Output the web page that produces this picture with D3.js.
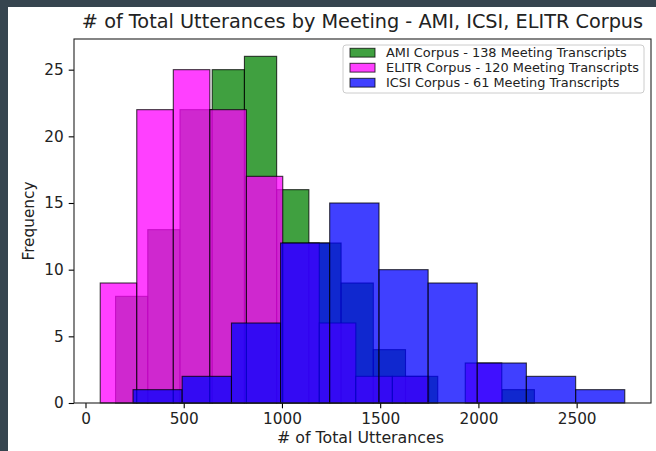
<!DOCTYPE html>
<html>
<head>
<meta charset="utf-8">
<script src="https://cdn.jsdelivr.net/npm/d3@7"></script>
<style>
  body { margin: 0; background: #36454f; }
  svg { display: block; font-family: "DejaVu Sans", sans-serif; }
</style>
</head>
<body>
<div id="chart"></div>
<script>
// bin edges and counts
const amiEdges = [153, 317, 481, 645, 809, 973, 1137, 1301, 1465, 1629, 1793, 1957, 2121, 2285];
const amiCounts = [8, 13, 22, 25, 26, 16, 12, 9, 4, 2, 0, 0, 1];

const elitrEdges = [75, 261, 447, 633, 819, 1004, 1190, 1376, 1562, 1748, 1933, 2119];
const elitrCounts = [9, 22, 25, 22, 17, 12, 6, 2, 2, 0, 3];

const icsiEdges = [242, 492, 743, 993, 1243, 1494, 1744, 1994, 2244, 2495, 2745];
const icsiCounts = [1, 2, 6, 12, 15, 10, 9, 3, 2, 1];

const seriesNames = ["AMI Corpus - 138 Meeting Transcripts", "ELITR Corpus - 120 Meeting Transcripts", "ICSI Corpus - 61 Meeting Transcripts"];
const seriesColors = ["#008000", "#ff00ff", "#0000ff"];

const xTicks = [0, 500, 1000, 1500, 2000, 2500];
const yTicks = [0, 5, 10, 15, 20, 25];

function toBins(edges, counts) {
    return counts.map((c, i) => ({ x0: edges[i], x1: edges[i + 1], count: c }));
}

function drawChart() {
    const W = 656, H = 451;
    const margin = { top: 39, right: 5, bottom: 48, left: 74 },
        width = W - margin.left - margin.right,
        height = H - margin.top - margin.bottom;

    const svg = d3.select("#chart")
        .append("svg")
        .attr("width", W)
        .attr("height", H);

    // white card on the dark slide
    svg.append("rect").attr("x", 0).attr("y", 0).attr("width", W).attr("height", H).attr("fill", "#36454f");
    svg.append("rect").attr("x", 8).attr("y", 7).attr("width", W - 8).attr("height", H - 7).attr("fill", "#ffffff");

    const series = [
        toBins(amiEdges, amiCounts),
        toBins(elitrEdges, elitrCounts),
        toBins(icsiEdges, icsiCounts)
    ];

    // x limits like matplotlib: data range plus 5% each side
    const allEdges = amiEdges.concat(elitrEdges, icsiEdges);
    const [lo, hi] = d3.extent(allEdges);
    const pad = (hi - lo) * 0.05;
    const x = d3.scaleLinear().domain([lo - pad, hi + pad]).range([0, width]);

    const maxCount = d3.max(amiCounts.concat(elitrCounts, icsiCounts));
    const y = d3.scaleLinear().domain([0, maxCount * 1.05]).range([height, 0]);

    const g = svg.append("g")
        .attr("transform", "translate(" + margin.left + "," + margin.top + ")");

    // bars, one histogram after the other
    series.forEach((bins, i) => {
        g.append("g").selectAll("rect")
            .data(bins.filter(b => b.count > 0))
            .enter()
            .append("rect")
            .attr("x", b => x(b.x0))
            .attr("y", b => y(b.count))
            .attr("width", b => x(b.x1) - x(b.x0))
            .attr("height", b => height - y(b.count))
            .attr("fill", seriesColors[i])
            .attr("fill-opacity", 0.75)
            .attr("stroke", "#000")
            .attr("stroke-opacity", 0.75)
            .attr("stroke-width", 1.1);
    });

    // axes
    const xAxis = g.append("g")
        .attr("transform", "translate(0," + height + ")")
        .call(d3.axisBottom(x).tickValues(xTicks).tickFormat(d3.format("d")).tickSize(5.3).tickPadding(5));
    const yAxis = g.append("g")
        .call(d3.axisLeft(y).tickValues(yTicks).tickFormat(d3.format("d")).tickSize(5.3).tickPadding(5));

    [xAxis, yAxis].forEach(ax => {
        ax.select(".domain").remove();
        ax.selectAll("line").attr("stroke", "#000").attr("stroke-width", 1.1);
        ax.selectAll("text").attr("font-size", "15.3px").attr("fill", "#222").attr("font-family", "DejaVu Sans");
    });

    // frame
    g.append("rect")
        .attr("x", 0).attr("y", 0)
        .attr("width", width).attr("height", height)
        .attr("fill", "none")
        .attr("stroke", "#222")
        .attr("stroke-width", 1.1);

    // title and labels
    svg.append("text")
        .attr("x", margin.left + width / 2)
        .attr("y", 28)
        .attr("text-anchor", "middle")
        .attr("font-size", "19.3px")
        .attr("fill", "#222")
        .text("# of Total Utterances by Meeting - AMI, ICSI, ELITR Corpus");

    svg.append("text")
        .attr("x", margin.left + width / 2 - 2)
        .attr("y", 443)
        .attr("text-anchor", "middle")
        .attr("font-size", "15.8px")
        .attr("fill", "#222")
        .text("# of Total Utterances");

    svg.append("text")
        .attr("transform", "translate(34," + (margin.top + height / 2) + ") rotate(-90)")
        .attr("text-anchor", "middle")
        .attr("font-size", "15.3px")
        .attr("fill", "#222")
        .text("Frequency");

    // legend
    const legend = svg.append("g").attr("transform", "translate(343,45)");
    legend.append("rect")
        .attr("width", 301).attr("height", 48)
        .attr("rx", 3)
        .attr("fill", "#fff").attr("fill-opacity", 0.8)
        .attr("stroke", "#cccccc");

    seriesNames.forEach((name, i) => {
        const row = legend.append("g").attr("transform", "translate(7," + (7.7 + i * 15) + ")");
        row.append("rect")
            .attr("x", 0).attr("y", -4.4)
            .attr("width", 25).attr("height", 8.8)
            .attr("fill", seriesColors[i]).attr("fill-opacity", 0.75)
            .attr("stroke", "#000").attr("stroke-opacity", 0.75);
        row.append("text")
            .attr("x", 36).attr("y", 4.5)
            .attr("font-size", "12.9px")
            .attr("fill", "#222")
            .text(name);
    });
}

drawChart();
</script>
</body>
</html>
